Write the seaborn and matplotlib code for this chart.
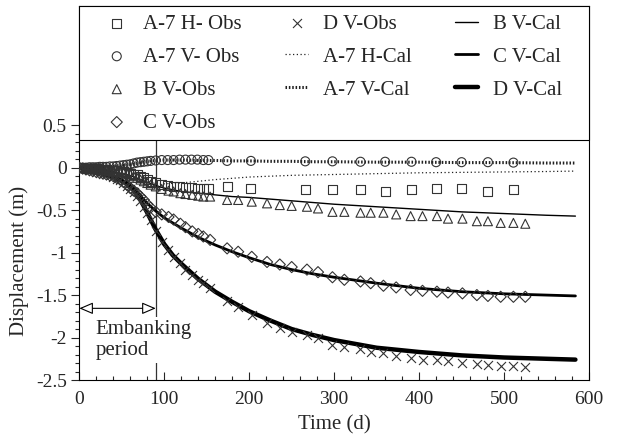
import matplotlib
matplotlib.use("Agg")
import matplotlib.pyplot as plt
from matplotlib.patches import Rectangle
from matplotlib.ticker import FixedLocator, FixedFormatter, MultipleLocator
import seaborn as sns

# observation times (d)
t_early = [0, 4, 8, 12, 16, 20, 24, 28, 32, 36, 40, 44, 48, 52, 56, 60, 64, 68, 72, 76, 80, 84]
t_a7 = t_early + [90, 97, 104, 111, 118, 125, 132, 139, 146, 152, 174, 202,
                  266, 298, 331, 360, 391, 420, 450, 481, 511]
t_obs = t_early + [90, 97, 105, 111, 119, 125, 133, 140, 146, 154,
                   174, 187, 203, 221, 236, 250, 268, 281, 298, 312,
                   331, 343, 358, 373, 390, 404, 421, 434, 451, 468,
                   481, 496, 511, 525]

a7_h_obs = [0, 0, -0.005, -0.01, -0.01, -0.015, -0.02, -0.02, -0.025, -0.03, -0.03,
            -0.035, -0.04, -0.05, -0.055, -0.065, -0.075, -0.085, -0.10, -0.12, -0.14, -0.16,
            -0.18, -0.20, -0.21, -0.22, -0.22, -0.23, -0.23, -0.24, -0.24, -0.24, -0.22,
            -0.24, -0.26, -0.26, -0.26, -0.28, -0.26, -0.25, -0.25, -0.28, -0.26]
a7_v_obs = [0, 0, 0, 0.005, 0.005, 0.005, 0.01, 0.01, 0.01, 0.015, 0.015,
            0.02, 0.025, 0.03, 0.035, 0.04, 0.05, 0.06, 0.065, 0.07, 0.075, 0.08,
            0.085, 0.09, 0.09, 0.09, 0.095, 0.095, 0.095, 0.095, 0.09, 0.09, 0.08,
            0.08, 0.075, 0.075, 0.07, 0.07, 0.07, 0.065, 0.065, 0.065, 0.06]
b_obs = [0, -0.005, -0.01, -0.01, -0.015, -0.02, -0.02, -0.025, -0.03, -0.035, -0.04,
         -0.045, -0.05, -0.06, -0.07, -0.08, -0.10, -0.12, -0.14, -0.16, -0.18, -0.20,
         -0.22, -0.25, -0.27, -0.28, -0.30, -0.31, -0.32, -0.33, -0.34, -0.34,
         -0.38, -0.38, -0.40, -0.42, -0.44, -0.45, -0.46, -0.48, -0.52, -0.52,
         -0.53, -0.53, -0.53, -0.55, -0.57, -0.57, -0.57, -0.60, -0.60, -0.63,
         -0.63, -0.65, -0.65, -0.66]
c_obs = [0, -0.01, -0.02, -0.03, -0.04, -0.05, -0.06, -0.07, -0.08, -0.09, -0.10,
         -0.12, -0.14, -0.17, -0.20, -0.24, -0.27, -0.30, -0.34, -0.38, -0.43, -0.47,
         -0.52, -0.55, -0.58, -0.61, -0.66, -0.70, -0.75, -0.78, -0.81, -0.85,
         -0.95, -0.99, -1.05, -1.11, -1.14, -1.17, -1.20, -1.23, -1.29, -1.32,
         -1.34, -1.36, -1.39, -1.41, -1.44, -1.45, -1.46, -1.47, -1.48, -1.50,
         -1.51, -1.52, -1.52, -1.52]
d_obs = [0, -0.01, -0.02, -0.03, -0.04, -0.05, -0.06, -0.07, -0.08, -0.09, -0.11,
         -0.13, -0.15, -0.18, -0.21, -0.25, -0.29, -0.33, -0.39, -0.46, -0.53, -0.61,
         -0.75, -0.87, -0.97, -1.05, -1.12, -1.20, -1.26, -1.32, -1.36, -1.42,
         -1.57, -1.64, -1.73, -1.83, -1.89, -1.93, -1.97, -2.01, -2.09, -2.11,
         -2.14, -2.17, -2.18, -2.22, -2.24, -2.26, -2.27, -2.28, -2.30, -2.31,
         -2.32, -2.34, -2.34, -2.35]

# calculated curves
t_cal = [0, 20, 40, 55, 65, 72, 80, 90, 100, 110, 120, 140, 160, 180, 200,
         225, 250, 275, 300, 350, 400, 450, 500, 550, 584]
a7_h_cal = [0, -0.02, -0.05, -0.08, -0.11, -0.13, -0.16, -0.19, -0.19, -0.185, -0.18, -0.16,
            -0.14, -0.125, -0.11, -0.10, -0.09, -0.085, -0.08, -0.07, -0.06, -0.055, -0.05,
            -0.045, -0.04]
a7_v_cal = [0, 0.005, 0.015, 0.03, 0.045, 0.06, 0.075, 0.085, 0.09, 0.09, 0.09, 0.085,
            0.085, 0.08, 0.08, 0.075, 0.075, 0.07, 0.07, 0.065, 0.065, 0.06, 0.06, 0.055, 0.055]
b_cal = [0, -0.02, -0.05, -0.08, -0.11, -0.14, -0.17, -0.21, -0.24, -0.26, -0.28, -0.30,
         -0.32, -0.34, -0.35, -0.37, -0.39, -0.41, -0.43, -0.46, -0.49, -0.52, -0.54, -0.56, -0.57]
c_cal = [0, -0.05, -0.11, -0.17, -0.25, -0.33, -0.42, -0.51, -0.59, -0.65, -0.71, -0.82,
         -0.91, -0.99, -1.06, -1.14, -1.20, -1.25, -1.29, -1.36, -1.42, -1.46, -1.485, -1.50, -1.51]
d_cal = [0, -0.05, -0.11, -0.18, -0.27, -0.38, -0.53, -0.73, -0.90, -1.03, -1.13, -1.31,
         -1.46, -1.58, -1.69, -1.80, -1.90, -1.97, -2.03, -2.12, -2.17, -2.21, -2.235, -2.25, -2.26]

y_ticks = [0.5, 0, -0.5, -1, -1.5, -2, -2.5]
y_labels = ["0.5", "0", "-0.5", "-1", "-1.5", "-2", "-2.5"]
y_minor = [0.4, 0.3, 0.2, 0.1, -0.1, -0.2, -0.3, -0.4, -0.6, -0.7, -0.8, -0.9,
           -1.1, -1.2, -1.3, -1.4, -1.6, -1.7, -1.8, -1.9, -2.1, -2.2, -2.3, -2.4]

sns.set_style("ticks")
plt.rcParams["font.family"] = ["Liberation Serif", "DejaVu Serif"]
plt.rcParams["axes.unicode_minus"] = False

fig = plt.figure(figsize=(6.18, 4.38), dpi=100)
ax = fig.add_axes([0.1283, 0.1324, 0.8248, 0.8539])

mk = dict(facecolors="none", edgecolors="#333333", linewidths=0.8, s=42, zorder=3)
sns.scatterplot(x=t_a7, y=a7_h_obs, marker="s", label="A-7 H- Obs", ax=ax, **mk)
sns.scatterplot(x=t_a7, y=a7_v_obs, marker="o", label="A-7 V- Obs", ax=ax, **mk)
sns.scatterplot(x=t_obs, y=b_obs, marker="^", label="B V-Obs", ax=ax, **mk)
mk_d = dict(mk, s=32)
sns.scatterplot(x=t_obs, y=c_obs, marker="D", label="C V-Obs", ax=ax, **mk_d)
sns.scatterplot(x=t_obs, y=d_obs, marker="x", label="D V-Obs", ax=ax,
                color="#333333", linewidth=0.8, s=42, zorder=3)

sns.lineplot(x=t_cal, y=a7_h_cal, color="#222222", lw=0.9, linestyle=(0, (1, 2)),
             label="A-7 H-Cal", ax=ax)
sns.lineplot(x=t_cal, y=a7_v_cal, color="#222222", lw=2.2, linestyle=(0, (0.5, 0.6)),
             label="A-7 V-Cal", ax=ax)
sns.lineplot(x=t_cal, y=b_cal, color="black", lw=1.0, label="B V-Cal", ax=ax)
sns.lineplot(x=t_cal, y=c_cal, color="black", lw=2.0, label="C V-Cal", ax=ax)
sns.lineplot(x=t_cal, y=d_cal, color="black", lw=3.2, label="D V-Cal", ax=ax)

# end of embanking
ax.axvline(90, color="#333333", lw=0.9, zorder=1)
ax.annotate("", xy=(0, -1.656), xytext=(90, -1.656),
            arrowprops=dict(arrowstyle="<|-|>,head_length=0.7,head_width=0.3",
                            fc="white", ec="black", lw=0.8, shrinkA=0, shrinkB=0,
                            mutation_scale=12))
ax.text(19, -2.03, "Embanking\nperiod", ha="left", va="center", fontsize=15,
        linespacing=1.15, bbox=dict(fc="white", ec="none", pad=2), zorder=4)

ax.set_xlim(0, 600)
ax.set_ylim(-2.5, 1.904)
ax.xaxis.set_major_locator(MultipleLocator(100))
ax.xaxis.set_minor_locator(MultipleLocator(20))
ax.yaxis.set_major_locator(FixedLocator(y_ticks))
ax.yaxis.set_major_formatter(FixedFormatter(y_labels))
ax.yaxis.set_minor_locator(FixedLocator(y_minor))
ax.tick_params(axis="x", which="major", direction="in", length=6, width=0.8,
               labelsize=14, pad=8)
ax.tick_params(axis="x", which="minor", direction="in", length=3, width=0.8)
ax.tick_params(axis="y", which="major", direction="out", length=6, width=0.8,
               labelsize=14, pad=3)
ax.tick_params(axis="y", which="minor", direction="out", length=3, width=0.8)
for sp in ax.spines.values():
    sp.set_linewidth(0.8)
    sp.set_color("black")

ax.set_xlabel("Time (d)", fontsize=15, labelpad=5)
ax.set_ylabel("Displacement (m)", fontsize=15)
ax.yaxis.set_label_coords(-0.098, 0.318)

# legend box over the upper part of the axes
ax.add_patch(Rectangle((0, 0.642), 1, 0.358, transform=ax.transAxes, fc="white",
                       ec="black", lw=0.8, zorder=9, clip_on=False))
handles, labels = ax.get_legend_handles_labels()
leg = ax.legend(handles, labels, ncol=3, loc="upper left", bbox_to_anchor=(0.051, 0.978),
                borderaxespad=0, borderpad=0, frameon=False, fontsize=15,
                handlelength=1.1, handletextpad=0.7, columnspacing=2.1,
                labelspacing=0.64, scatterpoints=1)
leg.set_zorder(10)

fig.savefig("out.png", dpi=100)
